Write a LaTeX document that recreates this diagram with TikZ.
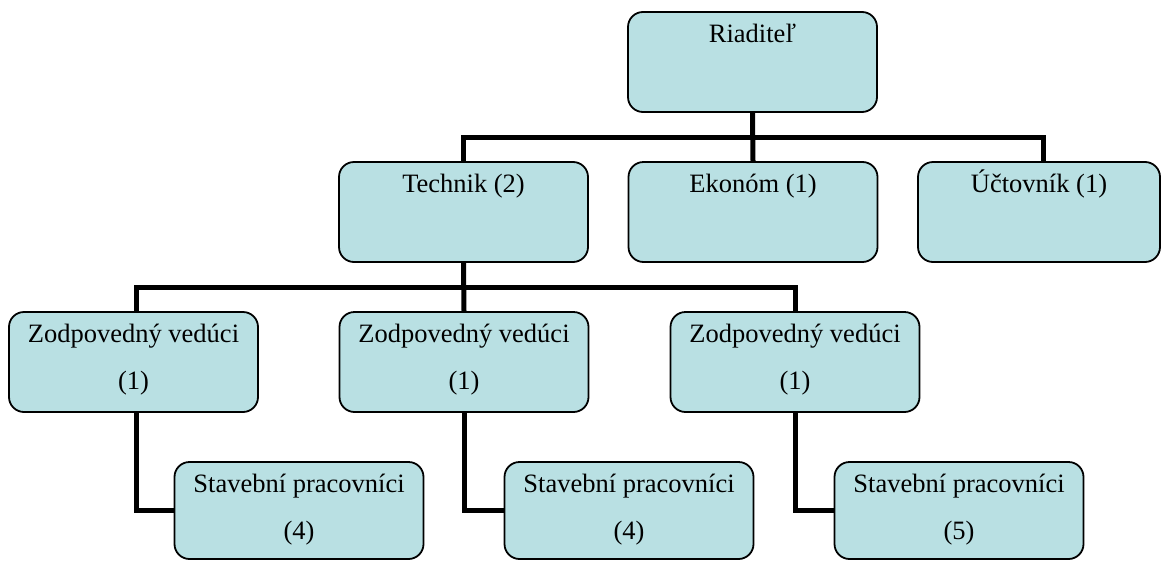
\documentclass[tikz,border=0pt]{standalone}
\usepackage{fontspec}
\setmainfont{Liberation Serif}
\newfontfamily\orgfont{Liberation Serif}
\definecolor{boxfill}{RGB}{185,224,227}
\begin{document}
\begin{tikzpicture}[x=1pt,y=-1pt,
  orgbox/.style={draw=black, line width=1.8pt, fill=boxfill, rounded corners=15pt,
    minimum height=100pt, minimum width=249pt, inner sep=0pt},
  lbl/.style={anchor=base, inner sep=0pt, font=\orgfont\fontsize{26.5}{30}\selectfont, text=black},
  link/.style={line width=5pt, black}]
\useasboundingbox (0,0) rectangle (1162,560);

% top level
\node[orgbox] (r) at (752.5,62) {};
% second level
\node[orgbox] (tech) at (463.5,212) {};
\node[orgbox] (ekon) at (753,212) {};
\node[orgbox, minimum width=242pt] (uct) at (1039,212) {};
% site managers
\node[orgbox] (z1) at (133.5,362) {};
\node[orgbox] (z2) at (464,362) {};
\node[orgbox] (z3) at (795,362) {};
% workers
\node[orgbox, minimum height=97pt] (s1) at (299,510.5) {};
\node[orgbox, minimum height=97pt] (s2) at (629,510.5) {};
\node[orgbox, minimum height=97pt] (s3) at (959,510.5) {};

% labels
\node[lbl] (tr) at ([yshift=-31pt]r.north) {Riaditeľ};
\node[lbl] (ttech) at ([yshift=-31pt]tech.north) {Technik (2)};
\node[lbl] (tekon) at ([yshift=-31pt]ekon.north) {Ekonóm (1)};
\node[lbl] (tuct) at ([yshift=-31pt]uct.north) {Účtovník (1)};
\foreach \n in {z1,z2,z3}{
  \node[lbl] (t\n a) at ([yshift=-31pt]\n.north) {Zodpovedný vedúci};
  \node[lbl] (t\n b) at ([yshift=-78pt]\n.north) {(1)};
}
\node[lbl] (ts1a) at ([yshift=-31pt]s1.north) {Stavební pracovníci};
\node[lbl] (ts1b) at ([yshift=-78pt]s1.north) {(4)};
\node[lbl] (ts2a) at ([yshift=-31pt]s2.north) {Stavební pracovníci};
\node[lbl] (ts2b) at ([yshift=-78pt]s2.north) {(4)};
\node[lbl] (ts3a) at ([yshift=-31pt]s3.north) {Stavební pracovníci};
\node[lbl] (ts3b) at ([yshift=-78pt]s3.north) {(5)};

% connectors
\coordinate (tb) at (753,137);
\draw[link] (tech.north) |- (tb) -| ([xshift=4pt]uct.north);
\draw[link] (r.south) -- (ekon.north);

\coordinate (lb) at (464,287);
\draw[link] ([xshift=3pt]z1.north) |- (lb) -| (z3.north);
\draw[link] (tech.south) -- (z2.north);

\draw[link] ([xshift=3pt]z1.south) |- (s1.west);
\draw[link] (z2.south) |- (s2.west);
\draw[link] (z3.south) |- (s3.west);
\end{tikzpicture}
\end{document}
